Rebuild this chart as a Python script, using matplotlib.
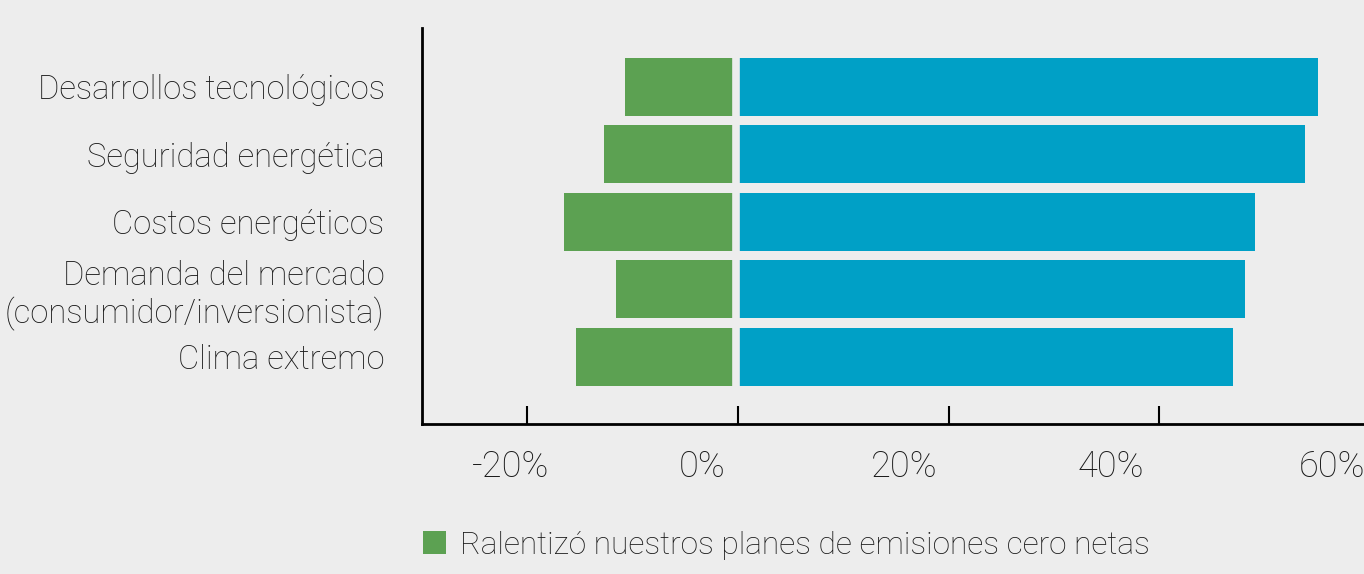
import matplotlib.pyplot as plt
import matplotlib.transforms as mtransforms
from matplotlib.patches import Patch

# datos (%)
categorias = ['Desarrollos tecnológicos', 'Seguridad energética', 'Costos energéticos',
              'Demanda del mercado\n(consumidor/inversionista)', 'Clima extremo']
ralentizo = [-10.7, -12.7, -16.5, -11.6, -15.4]
acelero = [55.1, 53.9, 49.1, 48.2, 47.0]
ticks = [-20, 0, 20, 40, 60]
tick_labels = ['-20%', '0%', '20%', '40%', '60%']

bg = '#ededed'
verde = '#5ca152'
azul = '#00a0c6'

plt.rcParams['font.family'] = ['Roboto', 'DejaVu Sans']

fig = plt.figure(figsize=(13.64, 5.74), dpi=100, facecolor=bg)
W, H = 1364, 574
ax = fig.add_axes([422 / W, 1 - 424 / H, (1375 - 422) / W, (424 - 28) / H])
ax.set_facecolor(bg)
ax.set_axisbelow(False)

y = list(range(len(categorias)))
ax.barh(y, ralentizo, height=0.86, color=verde, zorder=2)
ax.barh(y, acelero, height=0.86, color=azul, zorder=2)
# separación clara entre las dos barras
ax.axvline(-0.2, color=bg, lw=5.5, zorder=2.1)

ax.set_xlim(-30, 60.5)
ax.set_ylim(5.0, -0.87)

ax.set_yticks(y)
ax.set_yticklabels(categorias, fontsize=23.6, fontweight='light', color='#1a1a1a')
ax.tick_params(axis='y', length=0, pad=27)

ax.set_xticks(ticks)
ax.set_xticklabels(tick_labels, fontsize=26, fontweight='light', color='#1a1a1a')
ax.tick_params(axis='x', direction='in', length=13, width=1.5, pad=18)

# desplazamiento de las etiquetas del eje x como en el original
offsets = [-17, -36, -44, -48, -38]
for lab, dx in zip(ax.get_xticklabels(), offsets):
    lab.set_transform(lab.get_transform() + mtransforms.Affine2D().translate(dx, 0))

for s in ['top', 'right']:
    ax.spines[s].set_visible(False)
for s in ['left', 'bottom']:
    ax.spines[s].set_linewidth(2)
    ax.spines[s].set_color('black')

handles = [Patch(facecolor=verde, label='Ralentizó nuestros planes de emisiones cero netas')]
leg = fig.legend(handles=handles, loc='center left', bbox_to_anchor=(423 / W, 1 - 545 / H),
                 frameon=False, fontsize=22.8, borderpad=0, borderaxespad=0,
                 handlelength=0.73, handleheight=0.73, handletextpad=0.45)
for t in leg.get_texts():
    t.set_fontweight('light')
    t.set_color('#1a1a1a')

fig.savefig('out.png', dpi=100, facecolor=bg)
